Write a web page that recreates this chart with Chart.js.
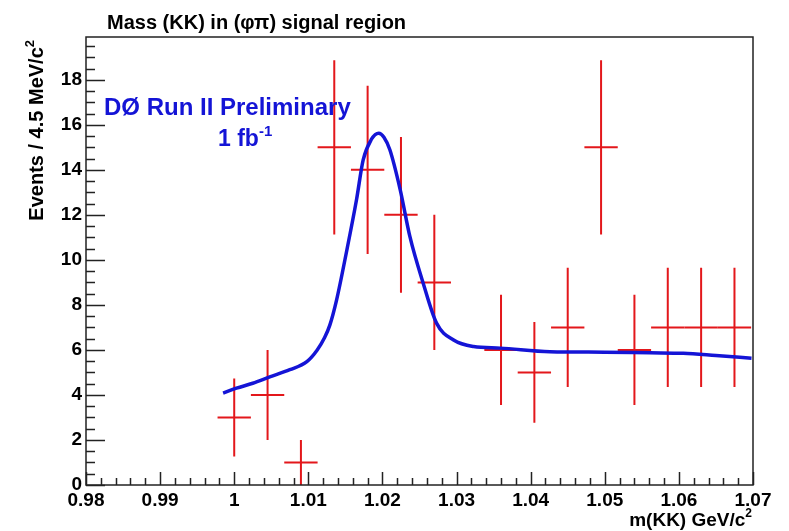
<html>
<head>
    <title>Mass (KK) in (phi pi) signal region</title>
    <script src="https://cdn.jsdelivr.net/npm/chart.js@4.4.1/dist/chart.umd.min.js"></script>
    <style>
        body { margin: 0; background: #fff; }
    </style>
</head>
<body>
<canvas id="kkChart" width="789" height="531"></canvas>

<script>
  // histogram bins (GeV/c^2), 4.5 MeV wide
  const binCenters = [1.0, 1.0045, 1.009, 1.0135, 1.018, 1.0225, 1.027, 1.036, 1.0405, 1.045, 1.0495, 1.054, 1.0585, 1.063, 1.0675]
  const counts = [3, 4, 1, 15, 14, 12, 9, 6, 5, 7, 15, 6, 7, 7, 7]
  const errors = [1.73, 2, 1, 3.87, 3.74, 3.46, 3, 2.45, 2.24, 2.65, 3.87, 2.45, 2.65, 2.65, 2.65]
  const binHalfWidth = 0.00225

  // fitted curve
  const fitX = [0.9985, 1.0003, 1.0025, 1.0048, 1.0075, 1.0098, 1.0112, 1.0122, 1.0129, 1.0138, 1.0152, 1.0165, 1.0174, 1.0185, 1.0195, 1.0202, 1.021, 1.0224, 1.0237, 1.0255, 1.0273, 1.0296, 1.0323, 1.0359, 1.0426, 1.05, 1.0561, 1.0606, 1.065, 1.0698]
  const fitY = [4.08, 4.3, 4.52, 4.8, 5.12, 5.48, 6.0, 6.55, 7.1, 8.2, 10.44, 12.67, 14.44, 15.35, 15.63, 15.45, 14.89, 13.11, 11.04, 8.96, 7.19, 6.44, 6.15, 6.08, 5.92, 5.9, 5.87, 5.85, 5.75, 5.63]

  const xTickValues = [0.98, 0.99, 1.0, 1.01, 1.02, 1.03, 1.04, 1.05, 1.06, 1.07]
  const xTickLabels = ['0.98', '0.99', '1', '1.01', '1.02', '1.03', '1.04', '1.05', '1.06', '1.07']
  const yTickLabels = ['0', '2', '4', '6', '8', '10', '12', '14', '16', '18']

  const red = '#e3171b'
  const blue = '#1414d6'
  const font = '"Liberation Sans", Arial, Helvetica, sans-serif'

  // text with an optional superscript part
  function drawSup(ctx, x, y, base, sup, size, align) {
    ctx.font = 'bold ' + size + 'px ' + font
    let w1 = ctx.measureText(base).width
    ctx.font = 'bold ' + Math.round(size * 0.65) + 'px ' + font
    let w2 = ctx.measureText(sup).width
    let start = align === 'right' ? x - w1 - w2 : x
    ctx.textAlign = 'left'
    ctx.textBaseline = 'alphabetic'
    ctx.font = 'bold ' + size + 'px ' + font
    ctx.fillText(base, start, y)
    ctx.font = 'bold ' + Math.round(size * 0.65) + 'px ' + font
    ctx.fillText(sup, start + w1, y - size * 0.45)
  }

  const errorBars = {
    id: 'errorBars',
    beforeDatasetsDraw(chart) {
      let ctx = chart.ctx
      let xs = chart.scales.x
      let ys = chart.scales.y
      ctx.save()
      ctx.strokeStyle = red
      ctx.lineWidth = 2
      for (let i = 0; i < binCenters.length; i++) {
        let px = xs.getPixelForValue(binCenters[i])
        let py = ys.getPixelForValue(counts[i])
        ctx.beginPath()
        ctx.moveTo(xs.getPixelForValue(binCenters[i] - binHalfWidth), py)
        ctx.lineTo(xs.getPixelForValue(binCenters[i] + binHalfWidth), py)
        ctx.moveTo(px, ys.getPixelForValue(counts[i] - errors[i]))
        ctx.lineTo(px, ys.getPixelForValue(counts[i] + errors[i]))
        ctx.stroke()
      }
      ctx.restore()
    }
  }

  const frameAndText = {
    id: 'frameAndText',
    afterDraw(chart) {
      let ctx = chart.ctx
      let a = chart.chartArea
      let xs = chart.scales.x
      let ys = chart.scales.y
      ctx.save()

      // frame
      ctx.strokeStyle = '#222'
      ctx.lineWidth = 1.5
      ctx.strokeRect(a.left, a.top, a.right - a.left, a.bottom - a.top)

      // inward ticks, ROOT style
      ctx.beginPath()
      for (let k = 0; k <= 45; k++) {
        let v = 0.98 + k * 0.002
        let px = Math.round(xs.getPixelForValue(v)) + 0.5
        let len = k % 5 === 0 ? 13 : 7
        ctx.moveTo(px, a.bottom)
        ctx.lineTo(px, a.bottom - len)
      }
      for (let k = 0; k <= 39; k++) {
        let v = k * 0.5
        let py = Math.round(ys.getPixelForValue(v)) + 0.5
        let len = k % 4 === 0 ? 19 : 9
        ctx.moveTo(a.left, py)
        ctx.lineTo(a.left + len, py)
      }
      ctx.stroke()

      ctx.fillStyle = '#000'
      // title
      ctx.font = 'bold 20px ' + font
      ctx.textAlign = 'left'
      ctx.textBaseline = 'alphabetic'
      ctx.fillText('Mass (KK) in (\u03c6\u03c0) signal region', 107, 29)

      // x axis title
      drawSup(ctx, 752, 526, 'm(KK) GeV/c', '2', 19, 'right')

      // y axis title
      ctx.save()
      ctx.translate(43, 40)
      ctx.rotate(-Math.PI / 2)
      drawSup(ctx, 0, 0, 'Events / 4.5 MeV/c', '2', 20, 'right')
      ctx.restore()

      // experiment label
      ctx.fillStyle = blue
      ctx.font = 'bold 24px ' + font
      ctx.fillText('D\u00d8 Run II Preliminary', 104, 115)
      drawSup(ctx, 218, 146, '1 fb', '-1', 23, 'left')

      ctx.restore()
    }
  }

  new Chart(document.getElementById('kkChart'), {
    type: 'scatter',
    data: {
      datasets: [
        {
          label: 'fit',
          data: fitX.map((x, i) => ({x: x, y: fitY[i]})),
          showLine: true,
          borderColor: blue,
          borderWidth: 3.5,
          pointRadius: 0,
          cubicInterpolationMode: 'monotone',
          clip: false
        }
      ]
    },
    options: {
      responsive: false,
      devicePixelRatio: 1,
      animation: false,
      layout: {padding: {left: 0, right: 36, top: 37, bottom: 0}},
      plugins: {legend: {display: false}, tooltip: {enabled: false}},
      scales: {
        x: {
          type: 'linear',
          min: 0.98,
          max: 1.07,
          afterFit: (scale) => { scale.height = 46 },
          afterBuildTicks: (scale) => { scale.ticks = xTickValues.map(v => ({value: v})) },
          grid: {display: false, drawTicks: false},
          border: {display: false},
          ticks: {
            padding: 4,
            color: '#000',
            maxRotation: 0,
            autoSkip: false,
            font: {family: font, size: 19, weight: 'bold'},
            callback: (v, i) => xTickLabels[i]
          }
        },
        y: {
          type: 'linear',
          min: 0,
          max: 19.9,
          afterFit: (scale) => { scale.width = 86 },
          afterBuildTicks: (scale) => { scale.ticks = yTickLabels.map(t => ({value: Number(t)})) },
          grid: {display: false, drawTicks: false},
          border: {display: false},
          ticks: {
            padding: 4,
            color: '#000',
            autoSkip: false,
            font: {family: font, size: 19, weight: 'bold'},
            callback: (v, i) => yTickLabels[i]
          }
        }
      }
    },
    plugins: [errorBars, frameAndText]
  })
</script>
</body>
</html>
